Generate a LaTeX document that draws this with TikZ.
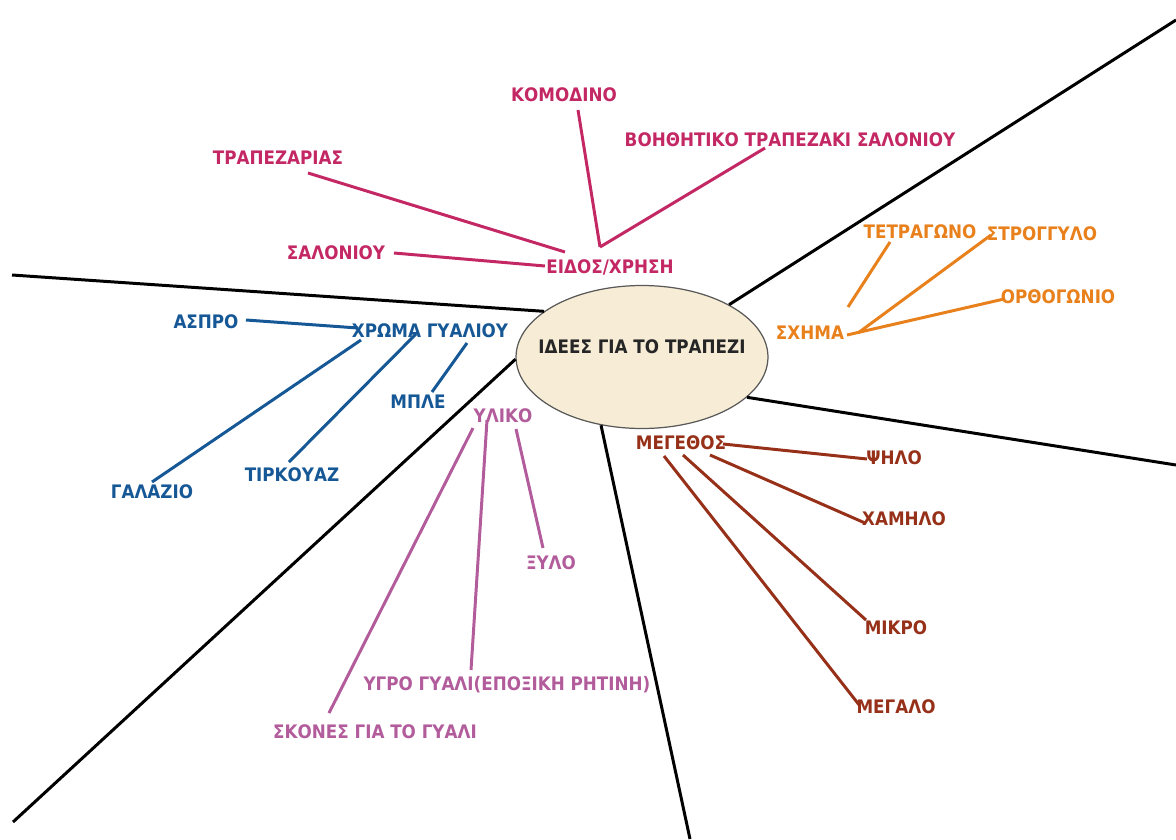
\documentclass[tikz,border=0pt]{standalone}
\usepackage{fontspec}
\setmainfont{DejaVu Sans Condensed}
\usetikzlibrary{calc,positioning,shapes}
\definecolor{eidosc}{RGB}{195,40,100}
\definecolor{sximac}{RGB}{232,128,28}
\definecolor{xromac}{RGB}{22,88,150}
\definecolor{ylikoc}{RGB}{178,92,155}
\definecolor{megc}{RGB}{150,48,24}
\definecolor{tablec}{RGB}{247,237,214}
\tikzset{
  lbl/.style={font=\bfseries\fontsize{10.6}{12}\selectfont, inner sep=1pt},
  spoke/.style={line width=1.7pt, black},
  twig/.style={line width=1.7pt},
}

\begin{document}
\begin{tikzpicture}[x=0.02cm, y=-0.02cm]
    \useasboundingbox (0,0) rectangle (1176,839);

    \node[ellipse, draw=black!65, line width=0.7pt, fill=tablec,
          minimum width=5.04cm, minimum height=2.86cm, inner sep=0pt] (idea) at (642,357) {};
    \node[lbl, text=black!85] (ideatxt) at ($(idea)+(0,-10)$) {ΙΔΕΕΣ ΓΙΑ ΤΟ ΤΡΑΠΕΖΙ};

    % main spokes
    \coordinate (nw) at (12,275);
    \coordinate (ne) at (1176,20);
    \coordinate (ee) at (1176,465);
    \coordinate (ss) at (690,839);
    \coordinate (sw) at (13,822);
    \draw[spoke] (idea.155.8) -- (nw);
    \draw[spoke] (idea.31) -- (ne);
    \draw[spoke] (idea.-21.1) -- (ee);
    \draw[spoke] (idea.239.4) -- (ss);
    \draw[spoke] (idea.181.4) -- (sw);

    % ΕΙΔΟΣ/ΧΡΗΣΗ
    \begin{scope}[every node/.style={lbl, text=eidosc}, draw=eidosc]
    \node (eidos) at (610,267) {ΕΙΔΟΣ/ΧΡΗΣΗ};
    \node (komod) at (564,95) {ΚΟΜΟΔΙΝΟ};
    \node (voith) at (790,140) {ΒΟΗΘΗΤΙΚΟ ΤΡΑΠΕΖΑΚΙ ΣΑΛΟΝΙΟΥ};
    \node (trapez) at (278,158) {ΤΡΑΠΕΖΑΡΙΑΣ};
    \node (salon) at (336,253) {ΣΑΛΟΝΙΟΥ};
    \draw[twig] ($(salon)+(58,0)$) -- ($(eidos)+(-65,-1)$);
    \draw[twig] ($(trapez)+(30,15)$) -- ($(eidos)+(-45,-15)$);
    \draw[twig] ($(komod)+(14,15)$) -- ($(eidos)+(-10,-20)$);
    \draw[twig] ($(voith)+(-25,8)$) -- ($(eidos)+(-10,-20)$);
    \end{scope}

    % ΣΧΗΜΑ
    \begin{scope}[every node/.style={lbl, text=sximac}, draw=sximac]
    \node (sxima) at (810,333) {ΣΧΗΜΑ};
    \node (tetrag) at (920,232) {ΤΕΤΡΑΓΩΝΟ};
    \node (strogg) at (1042,234) {ΣΤΡΟΓΓΥΛΟ};
    \node (orthog) at (1058,297) {ΟΡΘΟΓΩΝΙΟ};
    \draw[twig] ($(tetrag)+(-30,10)$) -- ($(sxima)+(38,-26)$);
    \draw[twig] ($(strogg)+(-51,1)$) -- ($(sxima)+(48,0)$);
    \draw[twig] ($(orthog)+(-54,2)$) -- ($(sxima)+(37,2)$);
    \end{scope}

    % ΧΡΩΜΑ ΓΥΑΛΙΟΥ
    \begin{scope}[every node/.style={lbl, text=xromac}, draw=xromac]
    \node (xroma) at (430,331) {ΧΡΩΜΑ ΓΥΑΛΙΟΥ};
    \node (aspro) at (206,322) {ΑΣΠΡΟ};
    \node (mple) at (418,402) {ΜΠΛΕ};
    \node (tirk) at (292,475) {ΤΙΡΚΟΥΑΖ};
    \node (galaz) at (152,492) {ΓΑΛΑΖΙΟ};
    \draw[twig] ($(aspro)+(40,-2)$) -- ($(xroma)+(-72,-3)$);
    \draw[twig] ($(galaz)+(0,-10)$) -- ($(xroma)+(-69,9)$);
    \draw[twig] ($(tirk)+(-3,-13)$) -- ($(xroma)+(-14,3)$);
    \draw[twig] ($(mple)+(14,-10)$) -- ($(xroma)+(37,12)$);
    \end{scope}

    % ΥΛΙΚΟ
    \begin{scope}[every node/.style={lbl, text=ylikoc}, draw=ylikoc]
    \node (yliko) at (503,416) {ΥΛΙΚΟ};
    \node (xylo) at (551,563) {ΞΥΛΟ};
    \node (ygro) at (507,685) {ΥΓΡΟ ΓΥΑΛΙ(ΕΠΟΞΙΚΗ ΡΗΤΙΝΗ)};
    \node (skones) at (375,732) {ΣΚΟΝΕΣ ΓΙΑ ΤΟ ΓΥΑΛΙ};
    \draw[twig] ($(skones)+(-46,-19)$) -- ($(yliko)+(-30,12)$);
    \draw[twig] ($(ygro)+(-36,-15)$) -- ($(yliko)+(-16,4)$);
    \draw[twig] ($(xylo)+(-8,-15)$) -- ($(yliko)+(13,13)$);
    \end{scope}

    % ΜΕΓΕΘΟΣ
    \begin{scope}[every node/.style={lbl, text=megc}, draw=megc]
    \node (meg) at (681,443) {ΜΕΓΕΘΟΣ};
    \node (psilo) at (894,458) {ΨΗΛΟ};
    \node (xamilo) at (904,519) {ΧΑΜΗΛΟ};
    \node (mikro) at (896,628) {ΜΙΚΡΟ};
    \node (megalo) at (896,707) {ΜΕΓΑΛΟ};
    \draw[twig] ($(meg)+(42,1)$) -- ($(psilo)+(-27,1)$);
    \draw[twig] ($(meg)+(29,12)$) -- ($(xamilo)+(-39,4)$);
    \draw[twig] ($(meg)+(2,12)$) -- ($(mikro)+(-30,-8)$);
    \draw[twig] ($(meg)+(-17,13)$) -- ($(megalo)+(-36,-1)$);
    \end{scope}
\end{tikzpicture}
\end{document}
